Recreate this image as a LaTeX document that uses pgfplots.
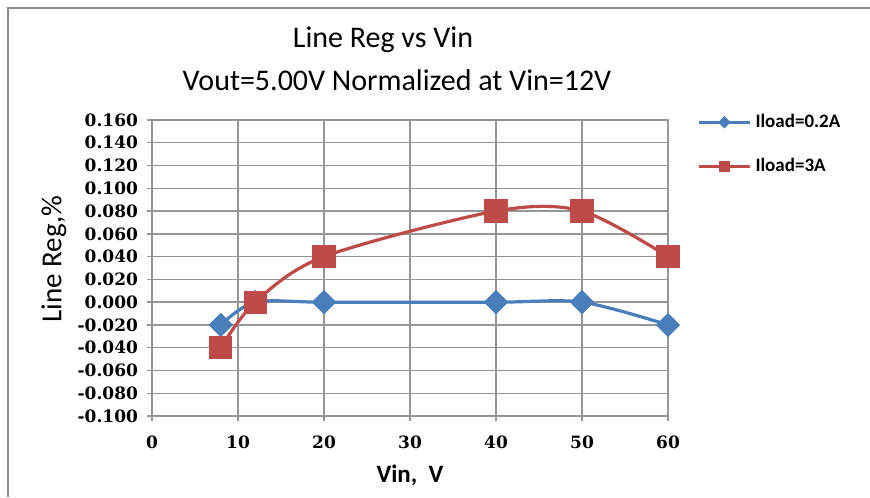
\documentclass[border=0pt]{standalone}
\usepackage{fontspec}
\setmainfont{Carlito}
\newfontfamily\tickfont{DejaVu Serif}
\usepackage{pgfplots}
\pgfplotsset{compat=1.18}
\definecolor{exblue}{RGB}{74,126,187}
\definecolor{exred}{RGB}{190,75,72}
\definecolor{gridgray}{RGB}{150,150,150}
\definecolor{bordergray}{RGB}{140,140,140}
\begin{document}
\begin{tikzpicture}
\useasboundingbox (0pt,0pt) rectangle (435pt,248.5pt);
\draw[bordergray, line width=1pt] (4pt,0pt) -- (4pt,244.5pt) -- (435pt,244.5pt);
\node[font=\fontsize{15}{17}\selectfont] at (191.5pt,228.5pt) {Line Reg vs Vin};
\node[font=\fontsize{15}{17}\selectfont] at (198.5pt,208.5pt) {Vout=5.00V Normalized at Vin=12V};
\begin{axis}[
  at={(76pt,40.5pt)}, anchor=south west,
  scale only axis, width=258pt, height=148pt,
  xmin=0, xmax=60, ymin=-0.1, ymax=0.16,
  xtick={0,10,...,60},
  ytick={-0.1,-0.08,...,0.161},
  grid=major,
  major grid style={gridgray, line width=0.7pt},
  axis line style={gridgray, line width=0.7pt},
  every tick/.style={gridgray, line width=0.7pt},
  tick align=outside, major tick length=2.5pt,
  xtick pos=bottom, ytick pos=left,
  /pgf/number format/assume math mode=true,
  yticklabel style={font=\tickfont\bfseries\fontsize{8.5}{10}\selectfont, /pgf/number format/fixed, /pgf/number format/fixed zerofill, /pgf/number format/precision=3, xshift=-1pt},
  xticklabel style={font=\tickfont\bfseries\fontsize{8.5}{10}\selectfont, yshift=-4pt},
  scaled y ticks=false,
  xlabel={Vin,\ \ V},
  ylabel={Line Reg,\%},
  xlabel style={font=\bfseries\fontsize{12.5}{14}\selectfont, at={(axis description cs:0.5,-0.2)}, anchor=center},
  ylabel style={font=\fontsize{14.5}{16}\selectfont, at={(axis description cs:-0.19,0.53)}, anchor=center},
  legend style={draw=none, fill=none, at={(axis description cs:1.056,1.035)}, anchor=north west, font=\bfseries\fontsize{9.5}{11}\selectfont, inner sep=0pt, row sep=10pt},
  legend cell align=left,
  legend image code/.code={\draw[mark repeat=2,mark phase=2,#1] plot coordinates {(0pt,0pt) (12.75pt,0pt) (25.5pt,0pt)};},
]
\addplot[exblue, line width=1.6pt, smooth, tension=0.5, mark=square*, mark options={rotate=45, solid}, mark size=3.5pt, legend image post style={mark size=1.4pt}]
  coordinates {(8,-0.02) (12,0) (20,0) (40,0) (50,0) (60,-0.02)};
\addlegendentry{Iload=0.2A}
\addplot[exred, line width=1.6pt, smooth, tension=0.5, mark=square*, mark options={solid}, mark size=5pt, legend image post style={mark size=1.8pt}]
  coordinates {(8,-0.04) (12,0) (20,0.04) (40,0.08) (50,0.08) (60,0.04)};
\addlegendentry{Iload=3A}
\end{axis}
\end{tikzpicture}
\end{document}
